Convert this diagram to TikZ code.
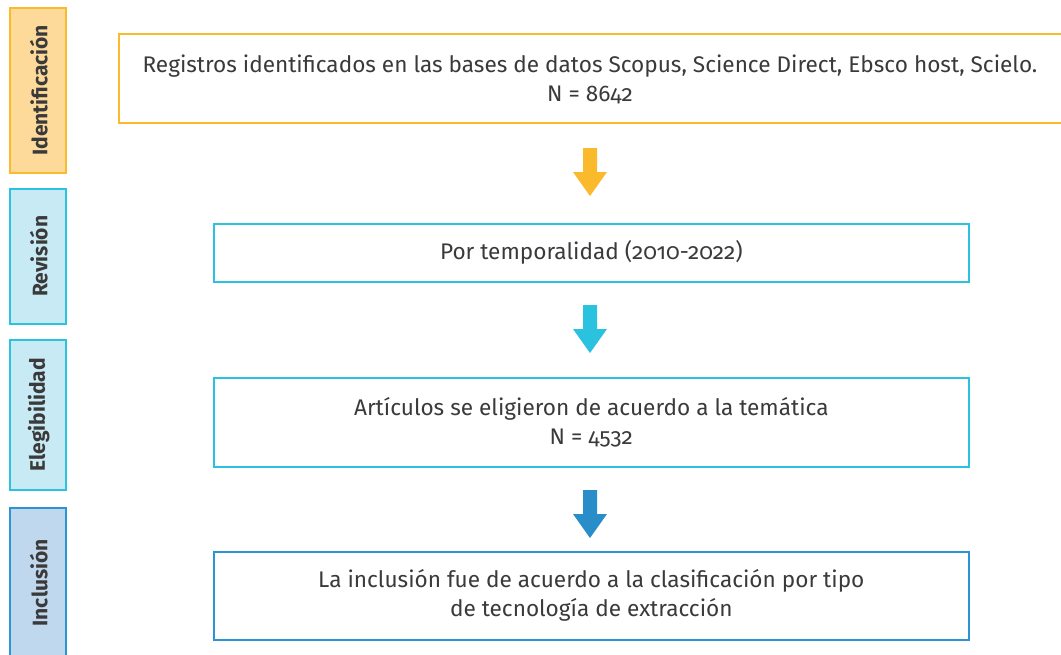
\documentclass[tikz,border=0pt]{standalone}
\usepackage{fontspec}
\setmainfont{Fira Sans}[Numbers=OldStyle]
\usetikzlibrary{calc}
\definecolor{oB}{HTML}{FBBA2C}
\definecolor{oF}{HTML}{FDD99A}
\definecolor{cB}{HTML}{2BC2E0}
\definecolor{cF}{HTML}{C8EAF4}
\definecolor{bB}{HTML}{2B94D4}
\definecolor{bF}{HTML}{C0D8EE}
\definecolor{txt}{HTML}{3A3A3A}
\tikzset{
  side/.style={draw=#1B, fill=#1F, line width=1.6pt, minimum width=56pt, inner sep=0pt, anchor=north west},
  sidelbl/.style={rotate=90, font=\bfseries\fontsize{21}{24}\selectfont, text=txt},
  mainbox/.style={draw=#1, line width=1.6pt, fill=white, inner sep=0pt, anchor=north west},
  maintxt/.style={align=center, font=\fontsize{22.6}{29}\selectfont, text=txt},
  blockarrow/.style={fill=#1, draw=none}
}
\newcommand{\blockarr}[2]{% top coordinate, color
  \fill[blockarrow=#2] ($(#1)+(-7,0)$) -- ($(#1)+(7,0)$) -- ($(#1)+(7,24)$) -- ($(#1)+(17,24)$) -- ($(#1)+(0,48)$) -- ($(#1)+(-17,24)$) -- ($(#1)+(-7,24)$) -- cycle;}
\begin{document}
\begin{tikzpicture}[x=1pt,y=-1pt]
\useasboundingbox (0,0) rectangle (1061,654);
\begin{scope}
\clip (0,0) rectangle (1061,654);
% side labels
\node[side=o, minimum height=165pt] (s1) at (9,7) {};
\node[sidelbl] at ($(s1.center)+(1,0)$) {Identificación};
\node[side=c, minimum height=135pt] (s2) at (9,188) {};
\node[sidelbl] at ($(s2.center)+(1,0)$) {Revisión};
\node[side=c, minimum height=150pt] (s3) at (9,339) {};
\node[sidelbl] at ($(s3.center)+(1,0)$) {Elegibilidad};
\node[side=b, minimum height=160pt] (s4) at (9,507) {};
\node[sidelbl] at ($(s4.center)+(1,-5)$) {Inclusión};
% main boxes
\node[mainbox=oB, minimum width=946pt, minimum height=89pt] (b1) at (118,33) {};
\node[maintxt] at (590,79) {Registros identificados en las bases de datos Scopus, Science Direct, Ebsco host, Scielo.\\N = 8642};
\node[mainbox=cB, minimum width=755pt, minimum height=58pt] (b2) at (213,223) {};
\node[maintxt] at (b2.center) {Por temporalidad (2010-2022)};
\node[mainbox=cB, minimum width=755pt, minimum height=89pt] (b3) at (213,377) {};
\node[maintxt] at (b3.center) {Artículos se eligieron de acuerdo a la temática\\N = 4532};
\node[mainbox=bB, minimum width=755pt, minimum height=88pt] (b4) at (213,551) {};
\node[maintxt] at (b4.center) {La inclusión fue de acuerdo a la clasificación por tipo\\de tecnología de extracción};
% arrows
\coordinate (a1) at (590,148);
\coordinate (a2) at (590,305);
\coordinate (a3) at (590,490);
\blockarr{a1}{oB}
\blockarr{a2}{cB}
\blockarr{a3}{bB!95!black}
\end{scope}
\end{tikzpicture}
\end{document}
